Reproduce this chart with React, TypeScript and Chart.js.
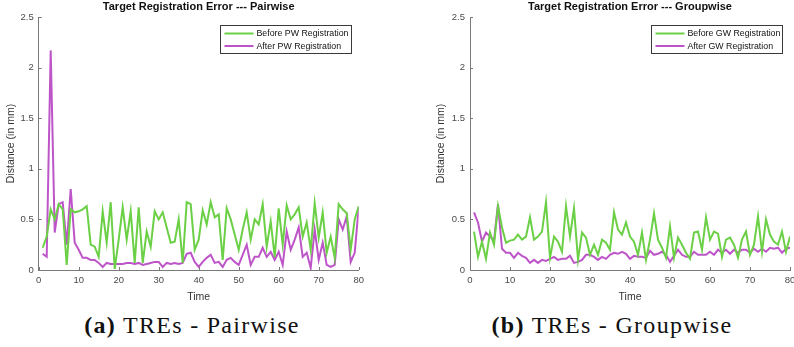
import React, { useEffect, useRef } from "react";
import { Chart, registerables } from "chart.js";
Chart.register(...registerables);

const timeSteps = [
  1, 2, 3, 4, 5, 6, 7, 8, 9, 10, 11, 12, 13, 14, 15, 16, 17, 18, 19, 20,
  21, 22, 23, 24, 25, 26, 27, 28, 29, 30, 31, 32, 33, 34, 35, 36, 37, 38, 39, 40,
  41, 42, 43, 44, 45, 46, 47, 48, 49, 50, 51, 52, 53, 54, 55, 56, 57, 58, 59, 60,
  61, 62, 63, 64, 65, 66, 67, 68, 69, 70, 71, 72, 73, 74, 75, 76, 77, 78, 79, 80,
];

const beforePW = [
  0.22, 0.33, 0.6, 0.5, 0.65, 0.6, 0.05, 0.6, 0.57, 0.58,
  0.6, 0.63, 0.25, 0.23, 0.13, 0.58, 0.27, 0.67, 0.01, 0.3,
  0.62, 0.3, 0.58, 0.07, 0.62, 0.07, 0.38, 0.23, 0.58, 0.5,
  0.57, 0.42, 0.27, 0.28, 0.5, 0.07, 0.67, 0.65, 0.2, 0.3,
  0.59, 0.45, 0.67, 0.52, 0.55, 0.1, 0.61, 0.5, 0.35, 0.2,
  0.4, 0.57, 0.3, 0.5, 0.45, 0.65, 0.23, 0.48, 0.13, 0.61,
  0.25, 0.64, 0.5, 0.55, 0.62, 0.33, 0.47, 0.2, 0.66, 0.32,
  0.57, 0.17, 0.33, 0.12, 0.65, 0.6, 0.56, 0.2, 0.5, 0.63,
];

const afterPW = [
  0.16, 0.13, 2.17, 0.37, 0.65, 0.67, 0.25, 0.8, 0.27, 0.2,
  0.12, 0.12, 0.1, 0.1, 0.07, 0.03, 0.07, 0.06, 0.06, 0.06,
  0.06, 0.07, 0.07, 0.06, 0.07, 0.05, 0.06, 0.07, 0.08, 0.08,
  0.03, 0.07, 0.06, 0.07, 0.06, 0.07, 0.16, 0.17, 0.08, 0.03,
  0.08, 0.12, 0.15, 0.07, 0.08, 0.03, 0.1, 0.12, 0.08, 0.05,
  0.15, 0.25, 0.05, 0.13, 0.13, 0.22, 0.13, 0.18, 0.1, 0.18,
  0.05, 0.38, 0.2, 0.3, 0.42, 0.13, 0.17, 0.02, 0.4, 0.1,
  0.27, 0.05, 0.03, 0.05, 0.5, 0.4, 0.53, 0.08, 0.17, 0.62,
];

const beforeGW = [
  0.38, 0.13, 0.28, 0.11, 0.37, 0.25, 0.63, 0.42, 0.27, 0.29,
  0.3, 0.35, 0.3, 0.33, 0.52, 0.3, 0.33, 0.38, 0.67, 0.12,
  0.33, 0.28, 0.18, 0.63, 0.33, 0.61, 0.1, 0.37, 0.32, 0.15,
  0.25, 0.15, 0.3, 0.27, 0.2, 0.57, 0.4, 0.35, 0.47, 0.33,
  0.28, 0.15, 0.37, 0.1, 0.3, 0.56, 0.3, 0.22, 0.12, 0.43,
  0.12, 0.32, 0.25, 0.17, 0.11, 0.37, 0.38, 0.2, 0.52, 0.3,
  0.38, 0.36, 0.13, 0.3, 0.32, 0.25, 0.12, 0.3, 0.38, 0.15,
  0.25, 0.53, 0.18, 0.5, 0.35, 0.28, 0.25, 0.38, 0.18, 0.33,
];

const afterGW = [
  0.57, 0.47, 0.28, 0.37, 0.33, 0.29, 0.65, 0.21, 0.17, 0.17,
  0.12, 0.17, 0.14, 0.12, 0.07, 0.1, 0.07, 0.1, 0.09, 0.11,
  0.13, 0.1, 0.11, 0.11, 0.14, 0.07, 0.08, 0.1, 0.15, 0.15,
  0.13, 0.1, 0.13, 0.11, 0.15, 0.17, 0.16, 0.18, 0.16, 0.11,
  0.14, 0.13, 0.13, 0.12, 0.19, 0.15, 0.16, 0.18, 0.15, 0.08,
  0.14, 0.2, 0.15, 0.13, 0.13, 0.18, 0.15, 0.15, 0.15, 0.18,
  0.15, 0.2, 0.17, 0.2, 0.16, 0.2, 0.17, 0.2, 0.2, 0.17,
  0.21, 0.18, 0.21, 0.18, 0.22, 0.21, 0.22, 0.17, 0.21, 0.22,
];

const xTickValues = [0, 10, 20, 30, 40, 50, 60, 70, 80];
const xTickLabels = ["0", "10", "20", "30", "40", "50", "60", "70", "80"];
const yTickValues = [0, 0.5, 1, 1.5, 2, 2.5];
const yTickLabels = ["0", "0.5", "1", "1.5", "2", "2.5"];

const GREEN = "#6bd046";
const PURPLE = "#bd55c8";
const AXIS = "#7a7a7a";
const TICKTEXT = "#4a4a4a";
const SANS = '"Liberation Sans", Arial, Helvetica, sans-serif';

const decorPlugin = {
  id: "matlabDecor",
  afterDraw(chart: any, _args: any, opts: any) {
    const { ctx, chartArea, scales } = chart;
    const { left, right, bottom } = chartArea;
    ctx.save();
    // title
    ctx.font = `bold 11px ${SANS}`;
    ctx.fillStyle = "#111";
    ctx.textAlign = "center";
    ctx.textBaseline = "middle";
    ctx.fillText(opts.title, (left + right) / 2, 7);
    // inward tick marks
    ctx.strokeStyle = AXIS;
    ctx.lineWidth = 1;
    ctx.beginPath();
    scales.x.ticks.forEach((t: any) => {
      const px = Math.round(scales.x.getPixelForValue(t.value)) + 0.5;
      ctx.moveTo(px, bottom);
      ctx.lineTo(px, bottom - 3);
    });
    scales.y.ticks.forEach((t: any) => {
      const py = Math.round(scales.y.getPixelForValue(t.value)) + 0.5;
      ctx.moveTo(left, py);
      ctx.lineTo(left + 3, py);
    });
    ctx.stroke();
    // legend box
    const bw = 131;
    const bh = 28;
    const bx = Math.round(right - 8 - bw) + 0.5;
    const by = 25.5;
    ctx.fillStyle = "#fff";
    ctx.fillRect(bx, by, bw, bh);
    ctx.strokeStyle = "#3a3a3a";
    ctx.lineWidth = 1;
    ctx.strokeRect(bx, by, bw, bh);
    ctx.font = `8.8px ${SANS}`;
    ctx.textAlign = "left";
    ctx.textBaseline = "middle";
    chart.data.datasets.forEach((ds: any, i: number) => {
      const ry = by + 8 + i * 12.5;
      ctx.strokeStyle = ds.borderColor;
      ctx.lineWidth = 2;
      ctx.beginPath();
      ctx.moveTo(bx + 4, ry);
      ctx.lineTo(bx + 33, ry);
      ctx.stroke();
      ctx.fillStyle = "#111";
      ctx.fillText(ds.label, bx + 36, ry + 0.5);
    });
    ctx.restore();
  },
};

function makeConfig(title: string, labels: string[], before: number[], after: number[], yWidth: number, rightPad: number) {
  return {
    type: "line" as const,
    data: {
      datasets: [
        {
          label: labels[0],
          data: timeSteps.map((t, i) => ({ x: t, y: before[i] })),
          borderColor: GREEN,
          borderWidth: 2,
          pointRadius: 0,
          tension: 0,
          fill: false,
        },
        {
          label: labels[1],
          data: timeSteps.map((t, i) => ({ x: t, y: after[i] })),
          borderColor: PURPLE,
          borderWidth: 2,
          pointRadius: 0,
          tension: 0,
          fill: false,
        },
      ],
    },
    options: {
      responsive: false,
      animation: false as const,
      events: [],
      layout: { padding: { top: 17, left: 0, right: rightPad, bottom: 0 } },
      plugins: {
        legend: { display: false },
        title: { display: false },
        tooltip: { enabled: false },
        matlabDecor: { title },
      },
      scales: {
        x: {
          type: "linear" as const,
          min: 0,
          max: 80,
          afterBuildTicks: (s: any) => {
            s.ticks = xTickValues.map((v) => ({ value: v }));
          },
          afterFit: (s: any) => {
            s.height = 33;
            s.paddingLeft = 0;
            s.paddingRight = 0;
          },
          ticks: {
            autoSkip: false,
            padding: 5,
            color: TICKTEXT,
            font: { family: SANS, size: 9.5 },
            maxRotation: 0,
            callback: (v: any) => xTickLabels[xTickValues.indexOf(v)] ?? "",
          },
          grid: { display: true, drawOnChartArea: false, drawTicks: false },
          border: { display: true, color: AXIS, width: 1 },
          title: {
            display: true,
            text: "Time",
            color: "#333",
            font: { family: SANS, size: 10.5 },
            padding: { top: 0, bottom: 0 },
          },
        },
        y: {
          type: "linear" as const,
          min: 0,
          max: 2.5,
          afterBuildTicks: (s: any) => {
            s.ticks = yTickValues.map((v) => ({ value: v }));
          },
          afterFit: (s: any) => {
            s.width = yWidth;
            s.paddingTop = 0;
            s.paddingBottom = 0;
          },
          ticks: {
            autoSkip: false,
            padding: 5,
            color: TICKTEXT,
            font: { family: SANS, size: 9.5 },
            callback: (v: any) => yTickLabels[yTickValues.indexOf(v)] ?? "",
          },
          grid: { display: true, drawOnChartArea: false, drawTicks: false },
          border: { display: true, color: AXIS, width: 1 },
          title: {
            display: true,
            text: "Distance (in mm)",
            color: "#333",
            font: { family: SANS, size: 10.5 },
            padding: { top: 5, bottom: 0 },
          },
        },
      },
    },
    plugins: [decorPlugin],
  };
}

function Panel(props: {
  left: number;
  width: number;
  title: string;
  labels: string[];
  before: number[];
  after: number[];
  yWidth: number;
  rightPad: number;
}) {
  const ref = useRef<HTMLCanvasElement>(null);
  useEffect(() => {
    if (!ref.current) return;
    const chart = new Chart(
      ref.current,
      makeConfig(props.title, props.labels, props.before, props.after, props.yWidth, props.rightPad) as any
    );
    return () => chart.destroy();
  }, []);
  return (
    <canvas
      ref={ref}
      width={props.width}
      height={303}
      style={{ position: "absolute", left: props.left, top: 0, width: props.width, height: 303 }}
    />
  );
}

const captionStyle: React.CSSProperties = {
  position: "absolute",
  top: 310,
  fontFamily: '"Liberation Serif", "Times New Roman", serif',
  fontSize: 24,
  lineHeight: "30px",
  letterSpacing: "1.3px",
  color: "#111",
  whiteSpace: "nowrap",
  textAlign: "center",
};

export default function App() {
  return (
    <div style={{ position: "fixed", left: 0, top: 0, width: 794, height: 347, background: "#fff", overflow: "hidden" }}>
      <Panel
        left={0}
        width={397}
        title="Target Registration Error --- Pairwise"
        labels={["Before PW Registration", "After PW Registration"]}
        before={beforePW}
        after={afterPW}
        yWidth={38.7}
        rightPad={38.3}
      />
      <Panel
        left={430}
        width={364}
        title="Target Registration Error --- Groupwise"
        labels={["Before GW Registration", "After GW Registration"]}
        before={beforeGW}
        after={afterGW}
        yWidth={40}
        rightPad={4}
      />
      <div style={{ ...captionStyle, left: 60, width: 264 }}>
        <b>(a)</b> TREs - Pairwise
      </div>
      <div style={{ ...captionStyle, left: 480, width: 264 }}>
        <b>(b)</b> TREs - Groupwise
      </div>
    </div>
  );
}
